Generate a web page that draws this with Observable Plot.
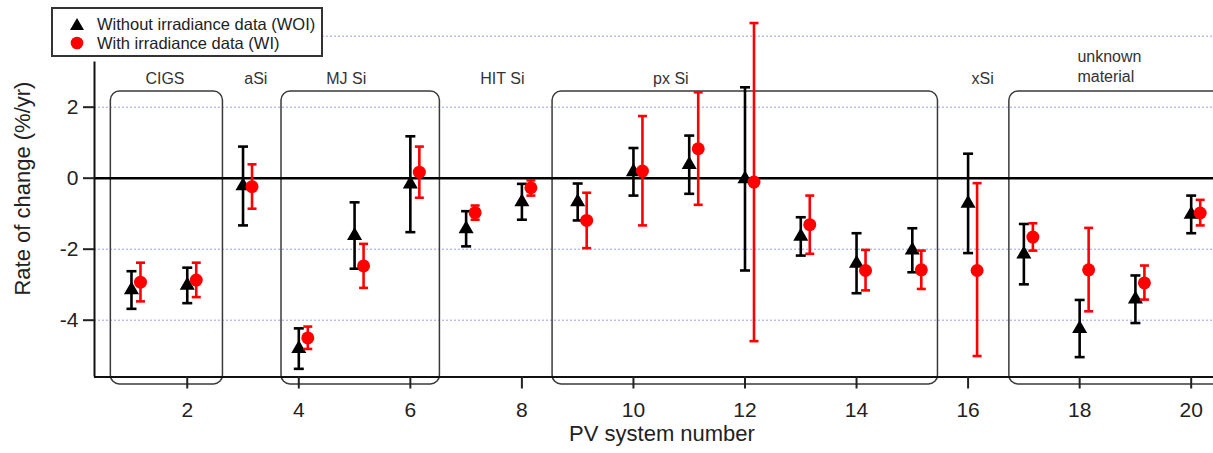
<!DOCTYPE html>
<html><head><meta charset="utf-8">
<script src="https://cdn.jsdelivr.net/npm/d3@7"></script>
<script src="https://cdn.jsdelivr.net/npm/@observablehq/plot@0.6"></script>
<style>
body{margin:0;background:#fff;font-family:"Liberation Sans",Arial,sans-serif;}
#wrap{position:relative;width:1213px;height:453px;overflow:hidden;}
#legend{position:absolute;left:51px;top:7px;width:268px;height:46px;border:2px solid #333;background:#fff;font-size:16.5px;color:#222;}
.row{position:absolute;left:0;height:20px;line-height:20px;white-space:nowrap;}
.row svg{position:absolute;left:16px;top:2px;}
.row span{position:absolute;left:44px;top:0;}
</style></head>
<body><div id="wrap"><div id="chart"></div>
<div id="legend">
 <div class="row" style="top:5px"><svg width="16" height="16"><path d="M8,2 L15,14 L1,14 Z" fill="#000"/></svg><span>Without irradiance data (WOI)</span></div>
 <div class="row" style="top:24px"><svg width="16" height="16"><circle cx="8" cy="8" r="6.3" fill="#ff0000"/></svg><span>With irradiance data (WI)</span></div>
</div></div>
<script>
// ---- data ----
const systems = d3.range(1, 21);
const woiValue = [-3.15,-3.02,-0.22,-4.80,-1.62,-0.17,-1.43,-0.67,-0.67,0.18,0.38,-0.02,-1.64,-2.40,-2.03,-0.71,-2.14,-4.24,-3.41,-1.02];
const woiLow   = [-3.68,-3.52,-1.33,-5.37,-2.55,-1.52,-1.92,-1.17,-1.19,-0.49,-0.44,-2.60,-2.18,-3.24,-2.65,-2.11,-2.99,-5.04,-4.08,-1.55];
const woiHigh  = [-2.62,-2.52,0.89,-4.23,-0.68,1.18,-0.93,-0.16,-0.15,0.85,1.20,2.56,-1.10,-1.55,-1.41,0.69,-1.29,-3.43,-2.74,-0.49];
const wiValue  = [-2.93,-2.87,-0.24,-4.50,-2.47,0.17,-0.97,-0.27,-1.19,0.20,0.83,-0.11,-1.31,-2.60,-2.58,-2.60,-1.66,-2.58,-2.95,-0.98];
const wiLow    = [-3.47,-3.35,-0.86,-4.81,-3.09,-0.55,-1.17,-0.49,-1.97,-1.33,-0.75,-4.59,-2.13,-3.16,-3.12,-5.01,-2.04,-3.75,-3.42,-1.33];
const wiHigh   = [-2.38,-2.38,0.39,-4.18,-1.85,0.89,-0.77,-0.06,-0.41,1.75,2.42,4.37,-0.49,-2.02,-2.04,-0.14,-1.27,-1.40,-2.46,-0.61];

const groupNames  = ["CIGS","aSi","MJ Si","HIT Si","px Si","xSi","unknown\nmaterial"];
const groupLabelX = [1.6, 3.23, 4.85, 7.65, 10.67, 16.26, 17.96];
const boxStart = [0.63, 3.69, 8.55, 16.74];
const boxEnd   = [2.64, 6.53, 15.46, 20.6];
const xTicks = [2,4,6,8,10,12,14,16,18,20];
const yTicks = [-4,-2,0,2];
const gridValues = [-4,-2,2,4];

// ---- tables ----
const woi = systems.map((s,i)=>({x:s, v:woiValue[i], lo:woiLow[i], hi:woiHigh[i]}));
const wi  = systems.map((s,i)=>({x:s, v:wiValue[i], lo:wiLow[i], hi:wiHigh[i]}));
const boxes = boxStart.map((b,i)=>({x1:b, x2:boxEnd[i]}));
const labels = groupNames.map((n,i)=>({name:n, x:groupLabelX[i], multi:n.includes("\n")}));

const xDomain = [0.337, 20.4];
const yDomain = [-5.6, 3.27];
const boxTop = 2.44, boxBottom = -5.81;

const cap = {draw(ctx, size){ const r = Math.sqrt(size/Math.PI); ctx.moveTo(-r,0); ctx.lineTo(r,0);} };

const plot = Plot.plot({
  width: 1213, height: 453,
  marginLeft: 94, marginRight: 0, marginTop: 61.6, marginBottom: 76.5,
  style: {fontFamily: '"Liberation Sans", Arial, sans-serif', background: "transparent", color: "#222"},
  x: {domain: xDomain, range: [94, 1213]},
  y: {domain: yDomain},
  marks: [
    Plot.ruleY(gridValues, {stroke: "#9a9af2", strokeWidth: 1, strokeDasharray: "2,2"}),
    Plot.rect(boxes, {x1: "x1", x2: "x2", y1: boxBottom, y2: boxTop, rx: 9, fill: "none", stroke: "#3a3a3a", strokeWidth: 1.5}),
    Plot.ruleY([0], {stroke: "black", strokeWidth: 2.6}),
    Plot.ruleX([xDomain[0]], {stroke: "#111", strokeWidth: 2}),
    Plot.ruleY([yDomain[0]], {stroke: "#111", strokeWidth: 2}),
    Plot.axisY({ticks: yTicks, tickSize: 11, tickPadding: 5, fontSize: 21, tickFormat: d => d < 0 ? "-" + Math.abs(d) : String(d), strokeWidth: 2, label: null}),
    Plot.axisX({ticks: xTicks, tickSize: 12, tickPadding: 13, fontSize: 21, strokeWidth: 2, label: null}),
    Plot.text(["PV system number"], {frameAnchor: "bottom", dx: 8, dy: 64, fontSize: 22, fill: "#222"}),
    Plot.text(["Rate of change (%/yr)"], {frameAnchor: "left", textAnchor: "middle", rotate: -90, dx: -72, dy: -31, fontSize: 22, fill: "#222"}),
    Plot.text(labels.filter(d=>!d.multi), {x: "x", y: 2.81, text: "name", fontSize: 16, fill: "#333"}),
    Plot.text(labels.filter(d=>d.multi), {x: "x", y: 3.46, text: "name", fontSize: 16, fill: "#333", textAnchor: "start", lineAnchor: "middle", lineHeight: 1.25, dy: 10}),
    // WOI (black)
    Plot.ruleX(woi, {x: "x", y1: "lo", y2: "hi", stroke: "black", strokeWidth: 2.6}),
    Plot.dot(woi, {x: "x", y: "lo", symbol: cap, r: 5, fill: "none", stroke: "black", strokeWidth: 2.6}),
    Plot.dot(woi, {x: "x", y: "hi", symbol: cap, r: 5, fill: "none", stroke: "black", strokeWidth: 2.6}),
    Plot.dot(woi, {x: "x", y: "v", symbol: "triangle", r: 5.6, fill: "black", stroke: "none"}),
    // WI (red)
    Plot.ruleX(wi, {x: "x", y1: "lo", y2: "hi", dx: 9, stroke: "#ff0000", strokeWidth: 2.6}),
    Plot.dot(wi, {x: "x", y: "lo", dx: 9, symbol: cap, r: 4.5, fill: "none", stroke: "#ff0000", strokeWidth: 2.6}),
    Plot.dot(wi, {x: "x", y: "hi", dx: 9, symbol: cap, r: 4.5, fill: "none", stroke: "#ff0000", strokeWidth: 2.6}),
    Plot.dot(wi, {x: "x", y: "v", dx: 9, r: 6.5, fill: "#ff0000", stroke: "none"})
  ]
});
document.getElementById("chart").appendChild(plot);
</script>
</body></html>
